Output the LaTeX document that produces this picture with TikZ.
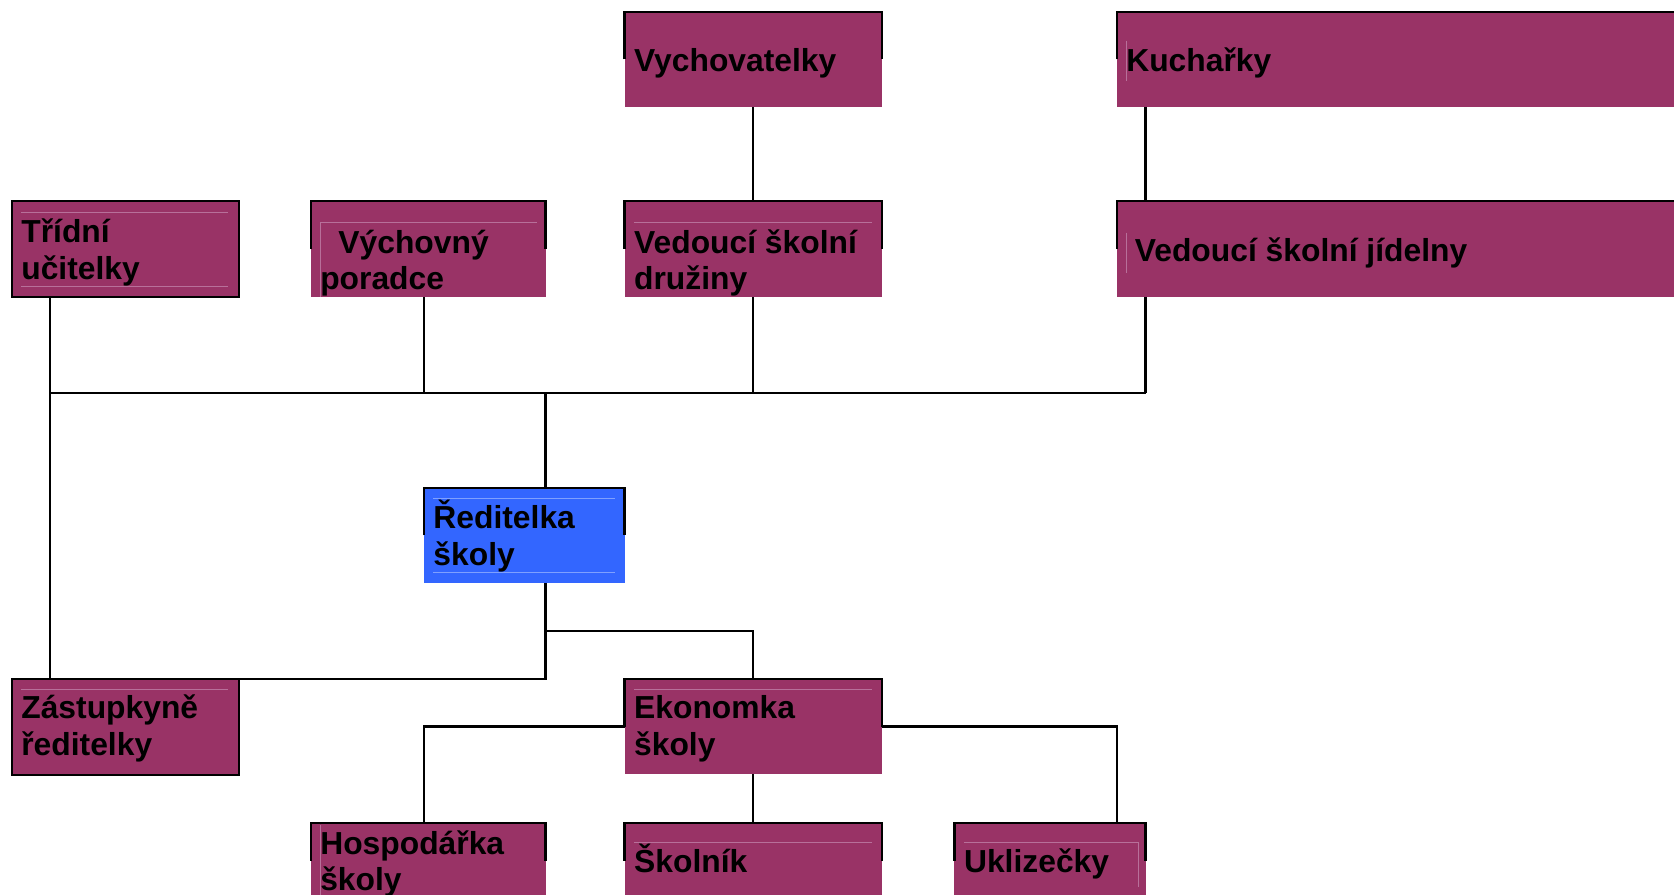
\documentclass[tikz,border=0pt]{standalone}
\usepackage{fontspec}
\setmainfont{Liberation Sans}
\usetikzlibrary{calc}
\definecolor{orgPlum}{HTML}{993366}
\definecolor{orgBlue}{HTML}{3366FF}
\definecolor{plumLine}{HTML}{B8709A}
\definecolor{blueLine}{HTML}{7FA0FF}
\newcommand\BoxTxt[2]{\makebox[#1pt][l]{\begin{tabular}[t]{@{}l@{}}#2\end{tabular}}}
\tikzset{
  box/.style={rectangle, fill=orgPlum, inner xsep=9pt, inner ysep=0pt, outer sep=0pt,
    anchor=north west, text depth=20pt, text=black,
    font=\bfseries\fontsize{29.8}{34.5}\selectfont},
  bluebox/.style={box, fill=orgBlue},
  frame/.style={draw=black, line width=2pt},
  conn/.style={draw=black, line width=2pt},
  iline/.style={draw=plumLine, line width=0.9pt},
  bline/.style={draw=blueLine, line width=0.9pt}
}
\begin{document}
\begin{tikzpicture}[x=1pt, y=-1pt]
\path[fill=white, use as bounding box] (0,0) rectangle (1568,838);

% boxes
\node[box, text height=43pt, minimum height=89pt] (vych) at (585,11) {\BoxTxt{223}{Vychovatelky}};
\node[box, text height=43pt, minimum height=89pt] (kuch) at (1046,11) {\BoxTxt{542}{Kuchařky}};
\node[box, text height=8pt, minimum height=90pt] (trid) at (11,188) {\BoxTxt{195}{Třídní\\učitelky}};
\node[box, text height=28pt, minimum height=90pt] (por) at (291,188) {\BoxTxt{202}{\hspace*{17pt}Výchovný\\poradce}};
\node[box, text height=28pt, minimum height=90pt] (druz) at (585,188) {\BoxTxt{223}{Vedoucí školní\\družiny}};
\node[box, text height=44pt, minimum height=90pt] (jid) at (1046,188) {\BoxTxt{542}{\hspace*{8pt}Vedoucí školní jídelny}};
\node[bluebox, text height=7pt, minimum height=89pt] (red) at (397,457) {\BoxTxt{170}{Ředitelka\\školy}};
\node[box, text height=4pt, minimum height=90pt] (zast) at (11,636) {\BoxTxt{195}{Zástupkyně\\ředitelky}};
\node[box, text height=5pt, minimum height=89pt] (ekon) at (585,636) {\BoxTxt{223}{Ekonomka\\školy}};
\node[box, text height=8pt, minimum height=70pt] (hosp) at (291,771) {\BoxTxt{202}{Hospodářka\\školy}};
\node[box, text height=42pt, minimum height=70pt] (skol) at (585,771) {\BoxTxt{223}{Školník}};
\node[box, text height=42pt, minimum height=70pt] (ukl) at (894,771) {\BoxTxt{161}{Uklizečky}};

% faint inner text-frame lines
\draw[iline] ($(trid.north west)+(9,11)$) -- ($(trid.north east)+(-10,11)$);
\draw[iline] ($(trid.south west)+(9,-10)$) -- ($(trid.south east)+(-10,-10)$);
\draw[iline] ($(por.north west)+(9,20)$) -- ($(por.north east)+(-8,20)$);
\draw[iline] ($(por.north west)+(9,20)$) -- ($(por.south west)+(9,0)$);
\draw[iline] ($(druz.north west)+(9,20)$) -- ($(druz.north east)+(-9,20)$);
\draw[iline] ($(kuch.north west)+(9,27)$) -- ($(kuch.north west)+(9,65)$);
\draw[iline] ($(jid.north west)+(9,30)$) -- ($(jid.north west)+(9,68)$);
\draw[bline] ($(red.north west)+(9,10)$) -- ($(red.north east)+(-9,10)$);
\draw[bline] ($(red.south west)+(9,-10)$) -- ($(red.south east)+(-9,-10)$);
\draw[iline] ($(zast.north west)+(9,10)$) -- ($(zast.north east)+(-10,10)$);
\draw[iline] ($(ekon.north west)+(9,10)$) -- ($(ekon.north east)+(-9,10)$);
\draw[iline] ($(hosp.north west)+(9,2)$) -- ($(hosp.south west)+(9,0)$);
\draw[iline] ($(skol.north west)+(9,18)$) -- ($(skol.north east)+(-9,18)$);
\draw[iline] ($(ukl.north west)+(9,18)$) -- ($(ukl.north east)+(-7,18)$);
\draw[iline] ($(ukl.north east)+(-7,18)$) -- ($(ukl.north east)+(-7,60)$);

% black outlines (upper part)
\foreach \n in {vych,kuch,por,druz,jid,red,ekon,hosp,skol,ukl}
  \draw[frame] (\n.west) -- (\n.north west) -- (\n.north east) -- (\n.east);
\draw[frame] (trid.south west) rectangle (trid.north east);
\draw[frame] (zast.south west) rectangle (zast.north east);

% connector points
\coordinate (tridB) at ($(trid.south west)+(36,0)$);
\coordinate (zastT) at ($(zast.north west)+(36,0)$);
\coordinate (kuchB) at ($(kuch.south west)+(27,0)$);
\coordinate (jidT) at ($(jid.north west)+(27,0)$);
\coordinate (jidB) at ($(jid.south west)+(27,0)$);
\coordinate (porB) at ($(por.south west)+(106,0)$);
\coordinate (redT) at ($(red.north west)+(114,0)$);
\coordinate (redB) at ($(red.south west)+(114,0)$);
\coordinate (redM) at ($(redB)+(0,45)$);
\coordinate (hospT) at ($(hosp.north west)+(106,0)$);
\coordinate (uklT) at ($(ukl.north west)+(152,0)$);
\coordinate (bus) at (47,368);

% connectors
\draw[conn] (vych.south) -- (druz.north);
\draw[conn] (kuchB) -- (jidT);
\draw[conn] (tridB) -- (zastT);
\draw[conn] (tridB |- bus) -- (jidB |- bus);
\draw[conn] (porB) -- (porB |- bus);
\draw[conn] (druz.south) -- (druz.south |- bus);
\draw[conn] (jidB) -- (jidB |- bus);
\draw[conn] (redT |- bus) -- (redT);
\draw[conn] (redB) |- (zast.north east);
\draw[conn] (redM) -| (ekon.north);
\draw[conn] (ekon.west) -| (hospT);
\draw[conn] (ekon.south) -- (skol.north);
\draw[conn] (ekon.east) -| (uklT);
\end{tikzpicture}
\end{document}
